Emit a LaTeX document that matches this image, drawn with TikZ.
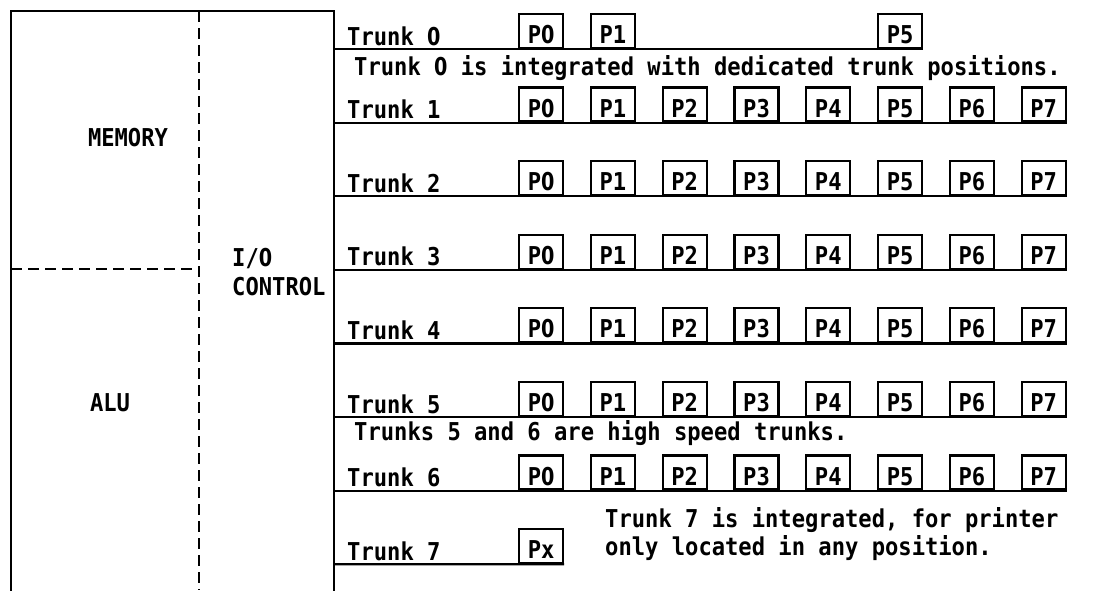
\documentclass[tikz,border=0pt]{standalone}
\usepackage{fontspec}
\setmonofont[FakeStretch=0.9]{DejaVu Sans Mono}
\newfontfamily\zerofont[FakeStretch=0.78]{DejaVu Sans}
\newcommand\Z{{\zerofont 0}}
\usepackage{tikz}
\usetikzlibrary{positioning}
\tikzset{
  every node/.style={font=\fontsize{24.6}{28}\selectfont\ttfamily\bfseries, inner sep=0pt},
  % --- unit
  unit/.style    = {line width=2.2pt, line cap=rect},
  divider/.style = {line width=2.2pt, dash pattern=on 11pt off 6pt},
  lbl/.style     = {anchor=base west},
  % --- trunks
  trunk/.style   = {line width=2.2pt},
  posbox/.style  = {draw, line width=2.2pt, minimum width=44pt, minimum height=34pt,
                    text height=25pt, text depth=0pt, anchor=south west},
}
\begin{document}
\begin{tikzpicture}[x=1pt,y=-1pt]
  \useasboundingbox (0,0) rectangle (1114,590);
  \draw[unit] (11,590) -- (11,11) -- (334,11) -- (334,590);
  \draw[divider] (199,11) -- (199,590);
  \draw[divider] (11,269) -- (199,269);
  \node (mem) at (128,138) {MEMORY};
  \node (alu) at (110,403) {ALU};
  \node[lbl] (io) at (232,266) {I/\Z};
  \node[lbl] (ctl) at (232,295) {CONTROL};
  % trunk labels
  \foreach \r/\rl in {0/\Z,1/1,2/2,3/3,4/4,5/5,6/6,7/7}{
    \pgfmathsetmacro{\ty}{49+73.6*\r}
    \coordinate (t\r) at (334,\ty);
    \node[lbl] (n\r) at (347,\ty-4) {Trunk \rl};
  }
  % positions
  \foreach \c/\cl in {0/\Z,1/1,5/5}
    \node[posbox] (p\c-0) at ({518+71.8*\c},49) {P\cl};
  \foreach \r in {1,...,6}
    \foreach \c/\cl in {0/\Z,1/1,2/2,3/3,4/4,5/5,6/6,7/7}
      \node[posbox] (p\c-\r) at ({518+71.8*\c},{49+73.6*\r}) {P\cl};
  \node[posbox] (px-7) at (518,564.2) {Px};
  \draw[trunk] (t0) -- (p5-0.south east);
  \foreach \r in {1,...,6}
    \draw[trunk] (t\r) -- (p7-\r.south east);
  \draw[trunk] (t7) -- (px-7.south east);
  % notes
  \node[lbl] (note0) at (354,75) {Trunk \Z{} is integrated with dedicated trunk positions.};
  \node[lbl] (note5) at (354,440) {Trunks 5 and 6 are high speed trunks.};
  \node[lbl, align=left] (note7) at (605,555) {Trunk 7 is integrated, for printer\\only located in any position.};
\end{tikzpicture}
\end{document}
